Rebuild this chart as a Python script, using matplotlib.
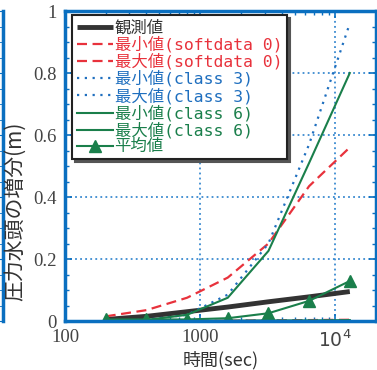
import matplotlib as mpl
mpl.use("Agg")
import matplotlib.pyplot as plt
import numpy as np
from matplotlib.ticker import FixedLocator, MultipleLocator, LogLocator, NullFormatter

# data
t = [200, 400, 800, 1600, 3200, 6400, 12800]
observed = [0.005, 0.015, 0.03, 0.045, 0.062, 0.078, 0.095]
min_soft0 = [0.0, 0.0, 0.0, 0.001, 0.002, 0.003, 0.004]
max_soft0 = [0.015, 0.035, 0.075, 0.14, 0.25, 0.435, 0.56]
min_cls3 = [0.0, 0.0, 0.0, 0.0, 0.001, 0.001, 0.002]
max_cls3 = [0.0, 0.004, 0.02, 0.085, 0.25, 0.57, 0.96]
min_cls6 = [0.0, 0.0, 0.0, 0.001, 0.002, 0.002, 0.003]
max_cls6 = [0.0, 0.003, 0.02, 0.075, 0.226, 0.51, 0.80]
mean_val = [0.005, 0.005, 0.005, 0.009, 0.025, 0.065, 0.129]

labels = ["観測値", "最小値(softdata 0)", "最大値(softdata 0)", "最小値(class 3)",
          "最大値(class 3)", "最小値(class 6)", "最大値(class 6)", "平均値"]
yticks = [0, 0.2, 0.4, 0.6, 0.8, 1.0]
yticklabels = ['0', '0.2', '0.4', '0.6', '0.8', '1']

c_blue = '#0a6fc0'
c_grid = '#3a8ad0'
c_red = '#e8323c'
c_dot = '#1f6fbf'
c_green = '#1a7f4b'
c_black = '#333333'
c_txt = '#444444'

fig = plt.figure(figsize=(3.77, 3.70), dpi=100, facecolor='w')
L, R, B, T = 65/377, 376/377, 1-321/370, 1-11/370
ax = fig.add_axes([L, B, R-L, T-B])

ax.plot(t, observed, color=c_black, lw=3.5, solid_capstyle='butt')
ax.plot(t, min_soft0, color=c_red, lw=1.6, ls=(0, (4.5, 2.5)))
ax.plot(t, max_soft0, color=c_red, lw=1.6, ls=(0, (4.5, 2.5)))
ax.plot(t, min_cls3, color=c_dot, lw=1.6, ls=(0, (1, 2.5)))
ax.plot(t, max_cls3, color=c_dot, lw=1.6, ls=(0, (1, 2.5)))
ax.plot(t, min_cls6, color=c_green, lw=1.5)
ax.plot(t, max_cls6, color=c_green, lw=1.5)
ax.plot(t, mean_val, color=c_green, lw=1.5, marker='^', ms=9)

ax.set_xscale('log')
ax.set_xlim(100, 2e4)
ax.set_ylim(0, 1)
ax.xaxis.set_major_locator(FixedLocator([100, 1000, 10000]))
ax.set_xticklabels(['100', '1000', r'$10^4$'])
ax.xaxis.set_minor_locator(LogLocator(base=10, subs=np.arange(2, 10)))
ax.xaxis.set_minor_formatter(NullFormatter())
ax.yaxis.set_major_locator(FixedLocator(yticks))
ax.set_yticklabels(yticklabels)
ax.yaxis.set_minor_locator(MultipleLocator(0.05))

for s in ax.spines.values():
    s.set_color(c_blue)
    s.set_linewidth(2.5)
ax.tick_params(which='both', direction='in', top=True, right=True, color=c_blue)
ax.tick_params(which='major', length=5, width=1.2, labelsize=13.5, labelcolor=c_txt, pad=6)
ax.tick_params(which='minor', length=3, width=1)
for lb in ax.get_xticklabels() + ax.get_yticklabels():
    lb.set_family(['Liberation Serif', 'DejaVu Serif'])
ax.grid(True, which='major', color=c_grid, lw=1.3, ls=(0, (1, 1.8)))

ax.set_xlabel("時間(sec)", family=['Noto Sans CJK JP'], fontsize=13, color='#333', labelpad=0)
fig.text(15.5/377, 1-211/370, "圧力水頭の増分(m)", rotation=90, ha='center', va='center',
         family=['Noto Sans CJK JP'], fontsize=15, color='#333')

leg = ax.legend(labels, loc='upper left', bbox_to_anchor=(72/377, 1-15/370),
                bbox_transform=fig.transFigure, borderaxespad=0, fancybox=False,
                shadow={'color': '#555555', 'alpha': 1}, framealpha=1,
                edgecolor='#222222', handlelength=2.2, handletextpad=0.1,
                labelspacing=0.04, borderpad=0.3, numpoints=1,
                prop={'family': ['DejaVu Sans Mono', 'Noto Sans CJK JP'], 'size': 11.8})
leg.get_frame().set_linewidth(1.5)
tcols = [c_black, c_red, c_red, c_dot, c_dot, c_green, c_green, c_green]
for txt, c in zip(leg.get_texts(), tcols):
    txt.set_color(c)

# fragment of neighbouring panel at the left edge
ax2 = fig.add_axes([-0.3, B, 0.3 + 2.5/377, T-B])
ax2.set_ylim(0, 1)
ax2.set_xticks([])
for k in ['left', 'top', 'bottom']:
    ax2.spines[k].set_visible(False)
ax2.spines['right'].set_color(c_blue)
ax2.spines['right'].set_linewidth(2.5)
ax2.yaxis.tick_right()
ax2.yaxis.set_major_locator(FixedLocator(yticks))
ax2.yaxis.set_minor_locator(MultipleLocator(0.05))
ax2.tick_params(which='both', direction='in', color=c_blue, labelright=False)
ax2.tick_params(which='major', length=5)
ax2.tick_params(which='minor', length=3)
ax2.patch.set_visible(False)

fig.savefig("out.png", dpi=100)
